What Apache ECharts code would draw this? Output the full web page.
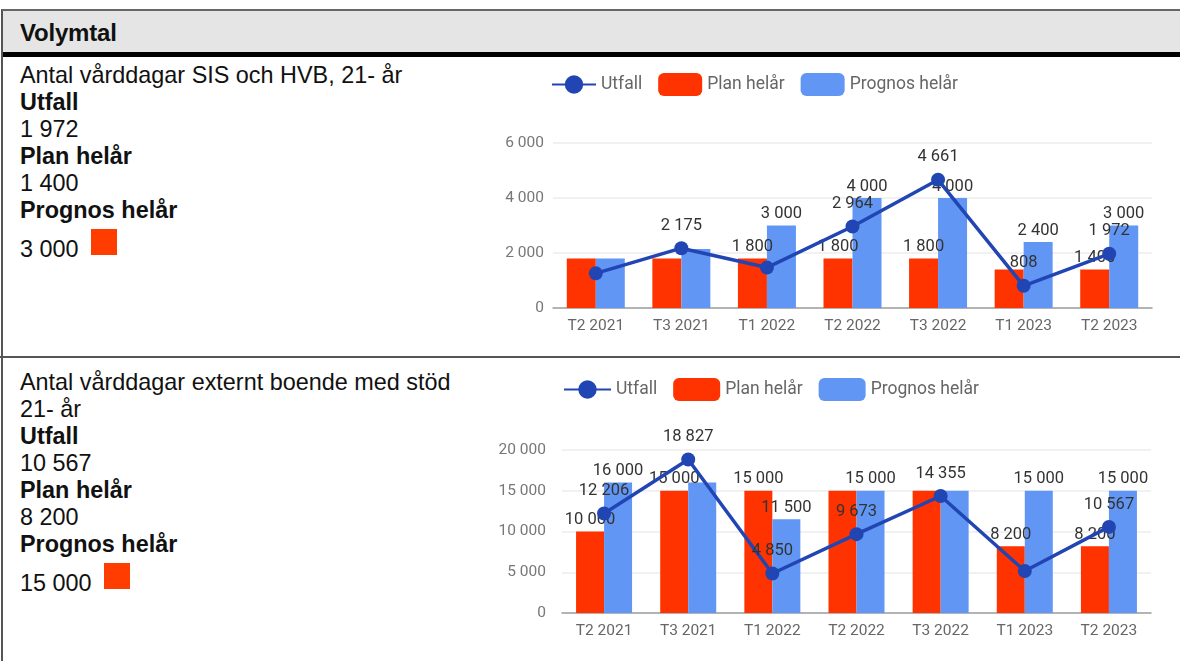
<!DOCTYPE html>
<html>
<head>
<meta charset="utf-8">
<title>Volymtal</title>
<script src="https://cdn.jsdelivr.net/npm/echarts@6/dist/echarts.min.js"></script>
<style>
  html, body { margin: 0; padding: 0; background: #fff; width: 1180px; height: 661px; overflow: hidden; }
  body { font-family: "Liberation Sans", Arial, sans-serif; color: #111; position: relative; }
  .frame { position: absolute; left: 1px; top: 9px; width: 1200px; height: 700px; border-left: 2px solid #555; border-top: 2px solid #666; }
  .head { position: absolute; left: 3px; top: 11px; width: 1200px; height: 41px; background: #e5e5e5; border-bottom: 5px solid #000; }
  .head span { position: absolute; left: 17px; top: 8px; font-weight: bold; font-size: 24px; letter-spacing: -0.2px; }
  .sep { position: absolute; left: 0; top: 356px; width: 1200px; height: 0; border-top: 2px solid #555; }
  .txt { position: absolute; left: 20px; font-size: 23.4px; line-height: 27px; }
  .txt b { font-weight: bold; }
  .sq { display: inline-block; width: 26px; height: 26px; background: #ff3d00; margin-left: 12px; vertical-align: 2px; }
  .last { margin-top: 5px; display: block; }
  .chart { position: absolute; left: 480px; width: 700px; }
</style>
</head>
<body>
<div class="frame"></div>
<div class="head"><span>Volymtal</span></div>
<div class="sep"></div>

<div class="txt" style="top:62px">
  Antal vårddagar SIS och HVB, 21- år<br>
  <b>Utfall</b><br>
  1 972<br>
  <b>Plan helår</b><br>
  1 400<br>
  <b>Prognos helår</b><br>
  <span class="last">3 000<span class="sq"></span></span>
</div>

<div class="txt" style="top:369px">
  Antal vårddagar externt boende med stöd<br>
  21- år<br>
  <b>Utfall</b><br>
  10 567<br>
  <b>Plan helår</b><br>
  8 200<br>
  <b>Prognos helår</b><br>
  <span class="last">15 000<span class="sq"></span></span>
</div>

<div id="chart1" class="chart" style="top:58px; height:298px"></div>
<div id="chart2" class="chart" style="top:359px; height:302px"></div>

<script>
// perioder
const categories = ['T2 2021', 'T3 2021', 'T1 2022', 'T2 2022', 'T3 2022', 'T1 2023', 'T2 2023']

// SIS och HVB
const sisUtfall = [1260, 2175, 1470, 2964, 4661, 808, 1972]
const sisPlan = [1800, 1800, 1800, 1800, 1800, 1400, 1400]
const sisPrognos = [1800, 2150, 3000, 4000, 4000, 2400, 3000]
const sisUtfallLabel = [false, true, false, true, true, true, true]
const sisPlanLabel = [false, false, true, true, true, false, true]
const sisPrognosLabel = [false, false, true, true, true, true, true]
const sisTicks = { max: 6000, interval: 2000 }

// externt boende med stöd
const extUtfall = [12206, 18827, 4850, 9673, 14355, 5150, 10567]
const extPlan = [10000, 15000, 15000, 15000, 15000, 8200, 8200]
const extPrognos = [16000, 16000, 11500, 15000, 15000, 15000, 15000]
const extUtfallLabel = [true, true, true, true, true, false, true]
const extPlanLabel = [true, true, true, false, false, true, true]
const extPrognosLabel = [true, false, true, true, false, true, true]
const extTicks = { max: 20000, interval: 5000 }

const colPlan = '#ff3300'
const colPrognos = '#6196f5'
const colUtfall = '#2146b4'

const fmt = (v) => String(v).replace(/\B(?=(\d{3})+(?!\d))/g, ' ')

const withLabels = (vals, flags) => vals.map((v, i) => ({ value: v, label: { show: flags[i] } }))

const labelStyle = {
  position: 'top',
  distance: 3,
  fontFamily: 'Roboto',
  fontSize: 16.5,
  color: '#333',
  formatter: (p) => fmt(p.value)
}

const buildOption = (cfg) => ({
  animation: false,
  textStyle: { fontFamily: 'Roboto' },
  legend: {
    data: ['Utfall', 'Plan helår', 'Prognos helår'],
    left: cfg.legendLeft,
    top: cfg.legendTop,
    itemWidth: cfg.itemWidth,
    itemHeight: 23,
    itemGap: 16,
    textStyle: { fontFamily: 'Roboto', fontSize: 17.5, color: '#666' }
  },
  grid: cfg.grid,
  xAxis: {
    type: 'category',
    data: categories,
    axisTick: { show: false },
    axisLine: { lineStyle: { color: '#9e9e9e', width: 1.5 } },
    axisLabel: { fontFamily: 'Roboto', fontSize: 15.5, color: '#666', margin: 10 }
  },
  yAxis: {
    type: 'value',
    min: 0,
    max: cfg.ticks.max,
    interval: cfg.ticks.interval,
    axisLine: { show: false },
    axisTick: { show: false },
    axisLabel: { fontFamily: 'Roboto', fontSize: 15.5, color: '#777', margin: cfg.labelMargin, formatter: fmt },
    splitLine: { lineStyle: { color: '#ececec', width: 1.5 } }
  },
  series: [
    {
      name: 'Plan helår',
      type: 'bar',
      data: withLabels(cfg.plan, cfg.planLabel),
      itemStyle: { color: colPlan },
      barWidth: cfg.barWidth,
      barGap: '0%',
      label: labelStyle
    },
    {
      name: 'Prognos helår',
      type: 'bar',
      data: withLabels(cfg.prognos, cfg.prognosLabel),
      itemStyle: { color: colPrognos },
      barWidth: cfg.barWidth,
      label: labelStyle
    },
    {
      name: 'Utfall',
      type: 'line',
      data: withLabels(cfg.utfall, cfg.utfallLabel),
      z: 5,
      symbol: 'circle',
      symbolSize: 14,
      lineStyle: { color: colUtfall, width: 3.5 },
      itemStyle: { color: colUtfall },
      label: Object.assign({}, labelStyle, { distance: 7 })
    }
  ]
})

const chart1 = echarts.init(document.getElementById('chart1'))
chart1.setOption(buildOption({
  legendLeft: 66, legendTop: 10, itemWidth: 44,
  grid: { left: 73, right: 28, top: 85, bottom: 48 },
  ticks: sisTicks, labelMargin: 9, barWidth: 29,
  plan: sisPlan, prognos: sisPrognos, utfall: sisUtfall,
  planLabel: sisPlanLabel, prognosLabel: sisPrognosLabel, utfallLabel: sisUtfallLabel
}))

const chart2 = echarts.init(document.getElementById('chart2'))
chart2.setOption(buildOption({
  legendLeft: 78, legendTop: 14, itemWidth: 47,
  grid: { left: 82, right: 29, top: 91, bottom: 48 },
  ticks: extTicks, labelMargin: 16, barWidth: 28,
  plan: extPlan, prognos: extPrognos, utfall: extUtfall,
  planLabel: extPlanLabel, prognosLabel: extPrognosLabel, utfallLabel: extUtfallLabel
}))

window.addEventListener('resize', () => { chart1.resize(); chart2.resize() })
</script>
</body>
</html>
